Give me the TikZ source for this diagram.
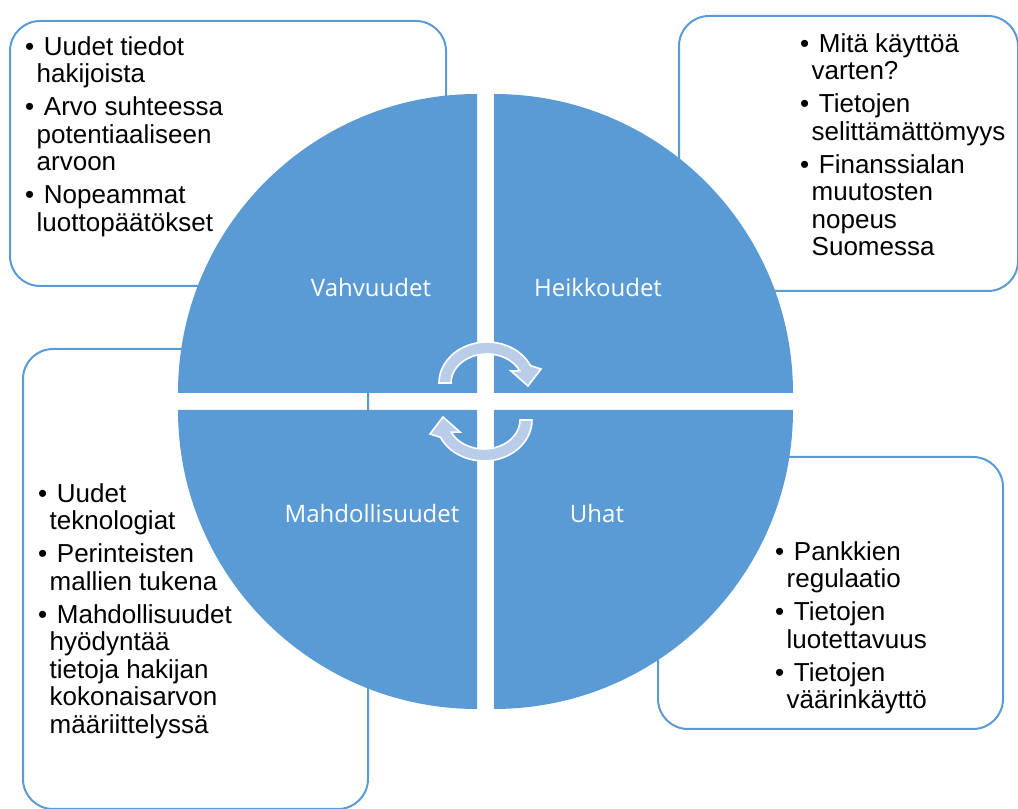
\documentclass[tikz,border=0pt]{standalone}
\usepackage{fontspec}
\setmainfont{Liberation Sans}
\newfontfamily\quarterfont{Open Sans}
\usetikzlibrary{positioning}
\definecolor{swotblue}{RGB}{91,155,213}
\definecolor{arrowblue}{RGB}{185,205,233}
\newcommand{\bul}{\makebox[11.5pt][l]{\textbullet}\ }
\newcommand{\cnt}{\hspace*{11.5pt}}
\tikzset{swot box/.style={draw=swotblue, line width=2pt, rounded corners=30pt, fill=white, inner sep=0pt, anchor=north west},
	swot text/.style={align=left, inner sep=0pt, anchor=north west, font=\fontsize{26}{27.5}\selectfont},
	quarter label/.style={text=white, font=\quarterfont\fontsize{24}{28}\selectfont, anchor=base},
	cycle arrow/.style={fill=arrowblue, draw=white, line width=1.6pt}}

\begin{document}
\begin{tikzpicture}[x=1pt, y=1pt]
	\useasboundingbox (0,0) rectangle (1018,809);
	% frames behind the circle
	\node[swot box, minimum width=436pt, minimum height=265pt] (vbox) at (9,789) {};
	\node[swot box, minimum width=339pt, minimum height=275pt] (hbox) at (678,794) {};
	\node[swot box, minimum width=345pt, minimum height=460pt] (mbox) at (22,461) {};
	\node[swot box, minimum width=345pt, minimum height=272pt] (ubox) at (657,353) {};
	
	% four quarters
	\fill[swotblue] (477,416) -- ++(-299,0) arc[start angle=180, end angle=90, radius=299] -- cycle;
	\fill[swotblue] (494,416) -- ++(0,299) arc[start angle=90, end angle=0, radius=299] -- cycle;
	\fill[swotblue] (477,399) -- ++(0,-299) arc[start angle=270, end angle=180, radius=299] -- cycle;
	\fill[swotblue] (494,399) -- ++(299,0) arc[start angle=0, end angle=-90, radius=299] -- cycle;
	
	\node[quarter label] (vah) at (371,512) {Vahvuudet};
	\node[quarter label] (hei) at (598,512) {Heikkoudet};
	\node[quarter label] (mah) at (372,286) {Mahdollisuudet};
	\node[quarter label] (uha) at (597,286) {Uhat};
	
	% round arrows in the middle
	\begin{scope}[shift={(487,426)}]
		\filldraw[cycle arrow] (180:48 and 41) arc[start angle=180, end angle=25, x radius=48, y radius=41]
			-- (54,14) -- (41,-3) -- (24,12) -- (25:36 and 29)
			arc[start angle=25, end angle=180, x radius=36, y radius=29] -- cycle;
	\end{scope}
	\begin{scope}[shift={(484,389)}, rotate=180]
		\filldraw[cycle arrow] (180:48 and 41) arc[start angle=180, end angle=25, x radius=48, y radius=41]
			-- (54,14) -- (41,-3) -- (24,12) -- (25:36 and 29)
			arc[start angle=25, end angle=180, x radius=36, y radius=29] -- cycle;
	\end{scope}
	
	% lists
	\node[swot text] (vtext) at (25,773) {\bul Uudet tiedot\\ \cnt hakijoista\\[5.5pt]
		\bul Arvo suhteessa\\ \cnt potentiaaliseen\\ \cnt arvoon\\[5.5pt]
		\bul Nopeammat\\ \cnt luottopäätökset};
	\node[swot text] (htext) at (800,776) {\bul Mitä käyttöä\\ \cnt varten?\\[5.5pt]
		\bul Tietojen\\ \cnt selittämättömyys\\[5.5pt]
		\bul Finanssialan\\ \cnt muutosten\\ \cnt nopeus\\ \cnt Suomessa};
	\node[swot text] (mtext) at (38,326) {\bul Uudet\\ \cnt teknologiat\\[5.5pt]
		\bul Perinteisten\\ \cnt mallien tukena\\[5.5pt]
		\bul Mahdollisuudet\\ \cnt hyödyntää\\ \cnt tietoja hakijan\\ \cnt kokonaisarvon\\ \cnt määriittelyssä};
	\node[swot text] (utext) at (775,268) {\bul Pankkien\\ \cnt regulaatio\\[5.5pt]
		\bul Tietojen\\ \cnt luotettavuus\\[5.5pt]
		\bul Tietojen\\ \cnt väärinkäyttö};
\end{tikzpicture}
\end{document}
